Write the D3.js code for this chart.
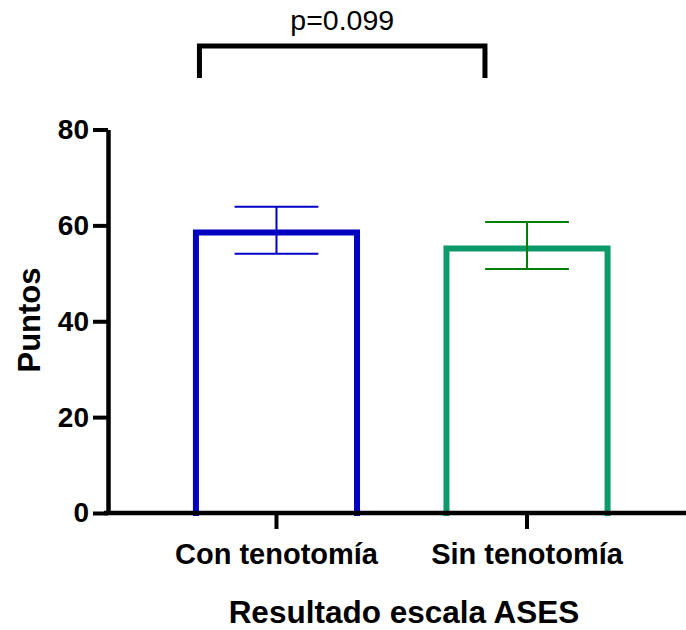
<!DOCTYPE html>
<html>
<head>
<meta charset="utf-8">
<script src="https://cdn.jsdelivr.net/npm/d3@7"></script>
<style>
  html, body { margin: 0; padding: 0; background: #fff; }
  text { font-family: "Liberation Sans", Arial, Helvetica, sans-serif; }
</style>
</head>
<body>
<svg id="chart" width="686" height="630"></svg>
<script>
// ASES score by group: mean with error bar bounds
const categories = ["Con tenotomía", "Sin tenotomía"];
const means = [58.5, 55.2];
const errLow = [54.1, 50.9];
const errHigh = [63.9, 60.7];
const yTicks = [0, 20, 40, 60, 80];
const barColors = ["#0000c0", "#0c9a68"];
const errColors = ["#0000c8", "#008000"];
const pLabel = "p=0.099";
const yTitle = "Puntos";
const xTitle = "Resultado escala ASES";

const svg = d3.select("#chart");

const x = d3.scaleBand()
  .domain(categories)
  .range([108, 695.5])
  .paddingInner(0.357)
  .paddingOuter(0.351);

const y = d3.scaleLinear().domain([0, 80]).range([513, 129.5]);

// Bars: open outline (left, top, right)
svg.append("g").selectAll("path")
  .data(categories)
  .join("path")
  .attr("d", (c, i) => {
    const x0 = x(c), x1 = x(c) + x.bandwidth();
    return `M${x0},${y(0)}V${y(means[i])}H${x1}V${y(0)}`;
  })
  .attr("fill", "none")
  .attr("stroke", (c, i) => barColors[i])
  .attr("stroke-width", 6)
  .attr("stroke-linejoin", "miter")
  .attr("stroke-linecap", "square");

// Error bars
const capHalf = x.bandwidth() * 0.26;
const eb = svg.append("g");
categories.forEach((c, i) => {
  const cx = x(c) + x.bandwidth() / 2;
  const g = eb.append("g")
    .attr("stroke", errColors[i])
    .attr("stroke-width", 2);
  g.append("line").attr("x1", cx).attr("x2", cx)
    .attr("y1", y(errLow[i])).attr("y2", y(errHigh[i]));
  g.append("line").attr("x1", cx - capHalf).attr("x2", cx + capHalf)
    .attr("y1", y(errHigh[i])).attr("y2", y(errHigh[i]));
  g.append("line").attr("x1", cx - capHalf).attr("x2", cx + capHalf)
    .attr("y1", y(errLow[i])).attr("y2", y(errLow[i]));
});

// Y axis
const yAxis = svg.append("g")
  .attr("transform", "translate(108,0)")
  .call(d3.axisLeft(y).tickValues(yTicks).tickSize(15).tickPadding(4).tickSizeOuter(0));
yAxis.select(".domain").attr("stroke", "#000").attr("stroke-width", 4.5);
yAxis.selectAll(".tick line").attr("stroke", "#000").attr("stroke-width", 4);
yAxis.selectAll(".tick text")
  .attr("fill", "#000")
  .style("font-size", "28px")
  .style("font-weight", "bold");

// X axis
const xAxis = svg.append("g")
  .attr("transform", `translate(0,${y(0)})`)
  .call(d3.axisBottom(x).tickSize(16).tickPadding(14).tickSizeOuter(0));
xAxis.select(".domain").attr("stroke", "#000").attr("stroke-width", 4.5)
  .attr("d", `M${104},0H${700}`);
xAxis.selectAll(".tick line").attr("stroke", "#000").attr("stroke-width", 4);
xAxis.selectAll(".tick text")
  .attr("fill", "#000")
  .style("font-size", "29px")
  .style("font-weight", "bold");

// Axis titles
svg.append("text")
  .attr("x", 404).attr("y", 623)
  .attr("text-anchor", "middle")
  .style("font-size", "31.5px").style("font-weight", "bold")
  .text(xTitle);

svg.append("text")
  .attr("transform", "translate(40,320) rotate(-90)")
  .attr("text-anchor", "middle")
  .style("font-size", "31px").style("font-weight", "bold")
  .text(yTitle);

// Significance bracket
const bx0 = x(categories[0]) + 3.5, bx1 = x(categories[1]) + 38.5;
svg.append("path")
  .attr("d", `M${bx0},78V46H${bx1}V78`)
  .attr("fill", "none")
  .attr("stroke", "#000")
  .attr("stroke-width", 5);
svg.append("text")
  .attr("x", (bx0 + bx1) / 2).attr("y", 30)
  .attr("text-anchor", "middle")
  .style("font-size", "28.5px")
  .text(pLabel);
</script>
</body>
</html>
